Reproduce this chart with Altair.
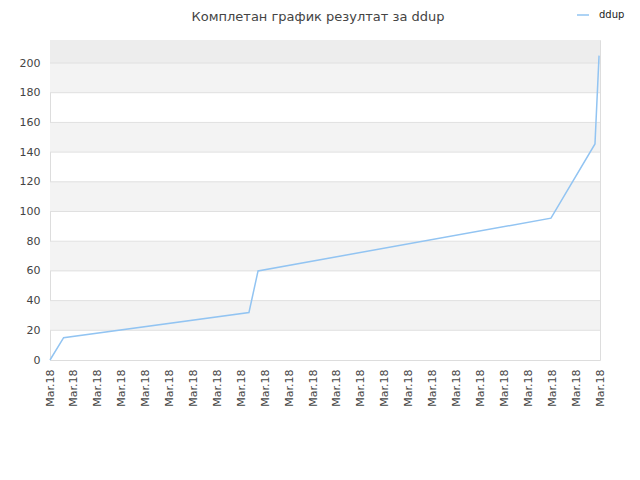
import altair as alt
import pandas as pd

# line data (x = position along the date axis, in label-slot units)
xs = [0.0, 0.57, 8.32, 8.70, 20.95, 22.79, 22.96]
ys = [0, 15, 32, 60, 95.5, 145.5, 205]
series = ["ddup"] * len(xs)

# date tick labels
tick_labels = ["Mar.18"] * 24

# y ticks
y_ticks = list(range(0, 201, 20))

# alternating background bands
band_lo = [20, 60, 100, 140, 180, 200]
band_hi = [40, 80, 120, 160, 200, 215.5]
band_col = ["#f3f3f3", "#f3f3f3", "#f3f3f3", "#f3f3f3", "#f3f3f3", "#ededed"]

line_df = pd.DataFrame({"x": xs, "y": ys, "s": series})
band_df = pd.DataFrame({"lo": band_lo, "hi": band_hi, "c": band_col})
grid_df = pd.DataFrame({"y": y_ticks[1:]})

FONT = "DejaVu Sans"
ydom = [0, 215.5]
xdom = [0, len(tick_labels) - 1]
yscale = alt.Scale(domain=ydom, nice=False)

y_axis = alt.Axis(
    title=None,
    values=y_ticks,
    labelFont=FONT,
    labelFontSize=11,
    labelColor="#444444",
    labelPadding=10,
    ticks=False,
    domain=False,
    grid=False,
    labelOverlap=False,
)

bands = alt.Chart(band_df).mark_rect().encode(
    y=alt.Y("lo:Q", scale=yscale, axis=y_axis),
    y2="hi:Q",
    x=alt.value(0),
    x2=alt.value(550),
    color=alt.Color("c:N", scale=None),
)

grid = alt.Chart(grid_df).mark_rule(color="#e0e0e0", strokeWidth=1).encode(
    y=alt.Y("y:Q", scale=yscale, axis=y_axis),
    x=alt.value(0),
    x2=alt.value(550),
)

line = alt.Chart(line_df).mark_line(strokeWidth=1.5, color="#92c4f2").encode(
    x=alt.X(
        "x:Q",
        scale=alt.Scale(domain=xdom, nice=False, zero=False),
        axis=alt.Axis(
            title=None,
            values=list(range(len(tick_labels))),
            labelExpr="'Mar.18'",
            labelAngle=-90,
            labelAlign="right",
            labelBaseline="middle",
            labelFont=FONT,
            labelFontSize=11,
            labelColor="#444444",
            labelPadding=9,
            ticks=False,
            domain=False,
            grid=False,
            labelOverlap=False,
        ),
    ),
    y=alt.Y("y:Q", scale=yscale, axis=y_axis),
    stroke=alt.Stroke(
        "s:N",
        scale=alt.Scale(range=["#92c4f2"]),
        legend=alt.Legend(
            title=None,
            orient="none",
            legendX=526,
            legendY=-32,
            symbolType="stroke",
            symbolSize=144,
            symbolStrokeWidth=1.5,
            labelOffset=9,
            labelFont=FONT,
            labelFontSize=10,
            labelColor="#222222",
        ),
    ),
)

chart = (
    alt.layer(bands, grid, line)
    .properties(
        width=550,
        height=320,
        autosize=alt.AutoSizeParams(type="none"),
        padding={"left": 42, "top": 32, "right": 32, "bottom": 112},
        title=alt.TitleParams(
            "Комплетан график резултат за ddup",
            font=FONT,
            fontSize=13,
            fontWeight="normal",
            color="#444444",
            anchor="middle",
            dx=-7,
            dy=16,
            offset=0,
        ),
    )
    .configure_view(stroke="#dddddd", strokeWidth=1)
    .configure(background="white")
)

chart.save("out.html", embed_options={"renderer": "svg", "actions": False})
